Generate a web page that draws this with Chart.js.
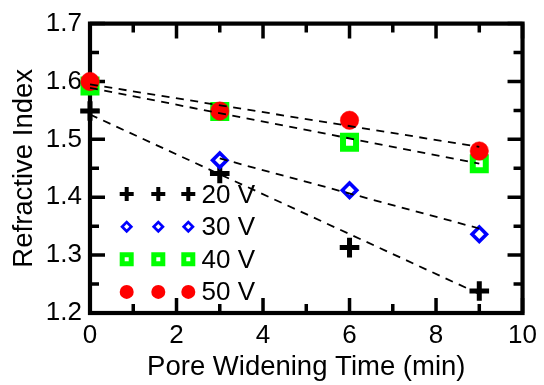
<!DOCTYPE html>
<html>
<head>
<meta charset="utf-8">
<script src="https://cdn.jsdelivr.net/npm/chart.js@4/dist/chart.umd.min.js"></script>
<style>
html,body{margin:0;padding:0;background:#fff;}
#wrap{position:relative;width:544px;height:385px;}
</style>
</head>
<body>
<div id="wrap"><canvas id="c"></canvas></div>
<script>
// ---- data ----
const times = [0, 3, 6, 9];
const ri20 = [1.549, 1.441, 1.313, 1.238];
const ri30 = [null, 1.464, 1.412, 1.336];
const ri40 = [1.592, 1.548, 1.495, 1.458];
const ri50 = [1.600, 1.549, 1.533, 1.480];

// dashed fit lines (end points)
const fitTimes20 = [0, 9];
const fit20 = [1.543, 1.233];
const fitTimes30 = [3, 9];
const fit30 = [1.467, 1.346];
const fitTimes40 = [0, 9];
const fit40 = [1.589, 1.458];
const fitTimes50 = [0, 9];
const fit50 = [1.595, 1.487];

const seriesLabels = ['20 V', '30 V', '40 V', '50 V'];
const xTicks = [0, 2, 4, 6, 8, 10];
const xMinorTicks = [1, 3, 5, 7, 9];
const yTicks = [1.2, 1.3, 1.4, 1.5, 1.6, 1.7];
const yMinorTicks = [1.25, 1.35, 1.45, 1.55, 1.65];

const xTitle = 'Pore Widening Time (min)';
const yTitle = 'Refractive Index';

function pts(xs, ys) {
  return xs.map((x, i) => ({x: x, y: ys[i]})).filter(p => p.y !== null);
}

const FONT = '"Liberation Sans", Arial, sans-serif';

const markerStyles = [
  {style: 'cross', color: '#000000', fill: '#000000'},
  {style: 'rectRot', color: '#0000ff', fill: '#ffffff'},
  {style: 'rect', color: '#00ff00', fill: '#ffffff'},
  {style: 'circle', color: '#ff0000', fill: '#ff0000'}
];

function fitDs(xs, ys) {
  return {
    type: 'scatter', data: pts(xs, ys), showLine: true,
    borderColor: '#000', borderWidth: 1.8, borderDash: [8, 6.5],
    pointRadius: 0, pointHoverRadius: 0, order: 0, clip: false
  };
}

const framePlugin = {
  id: 'frame',
  beforeDatasetsDraw(chart) {
    const {ctx, chartArea: a, scales: {x, y}} = chart;
    ctx.save();
    ctx.strokeStyle = '#000';
    ctx.lineCap = 'butt';
    ctx.lineWidth = 3.5;
    const MAJ = 15, MIN = 9;
    function vt(v, len) {
      const px = x.getPixelForValue(v);
      ctx.beginPath();
      ctx.moveTo(px, a.bottom); ctx.lineTo(px, a.bottom - len);
      ctx.moveTo(px, a.top); ctx.lineTo(px, a.top + len);
      ctx.stroke();
    }
    function ht(v, len) {
      const py = y.getPixelForValue(v);
      ctx.beginPath();
      ctx.moveTo(a.left, py); ctx.lineTo(a.left + len, py);
      ctx.moveTo(a.right, py); ctx.lineTo(a.right - len, py);
      ctx.stroke();
    }
    xTicks.forEach(v => vt(v, MAJ));
    xMinorTicks.forEach(v => vt(v, MIN));
    yTicks.forEach(v => ht(v, MAJ));
    yMinorTicks.forEach(v => ht(v, MIN));
    ctx.lineWidth = 4.2;
    ctx.lineJoin = 'miter';
    ctx.strokeRect(a.left, a.top, a.right - a.left, a.bottom - a.top);
    ctx.restore();
  }
};

function drawMarker(ctx, style, cx, cy, r, lw, color, fill) {
  ctx.save();
  ctx.strokeStyle = color;
  ctx.fillStyle = fill;
  ctx.lineWidth = lw;
  ctx.lineCap = 'butt';
  ctx.beginPath();
  if (style === 'cross') {
    ctx.moveTo(cx - r, cy); ctx.lineTo(cx + r, cy);
    ctx.moveTo(cx, cy - r); ctx.lineTo(cx, cy + r);
    ctx.stroke();
  } else if (style === 'rectRot') {
    ctx.moveTo(cx - r, cy); ctx.lineTo(cx, cy - r);
    ctx.lineTo(cx + r, cy); ctx.lineTo(cx, cy + r);
    ctx.closePath();
    ctx.fill(); ctx.stroke();
  } else if (style === 'rect') {
    ctx.rect(cx - r, cy - r, 2 * r, 2 * r);
    ctx.fill(); ctx.stroke();
  } else {
    ctx.arc(cx, cy, r, 0, Math.PI * 2);
    ctx.fill();
  }
  ctx.restore();
}

const legendPlugin = {
  id: 'innerLegend',
  afterDatasetsDraw(chart) {
    const {ctx, chartArea: a} = chart;
    const sizes = [
      {r: 7, lw: 4},
      {r: 4.6, lw: 2.7},
      {r: 4.5, lw: 5},
      {r: 7, lw: 0}
    ];
    const mx = [a.left + 36.7, a.left + 68.3, a.left + 98.3];
    const textX = a.left + 111.5;
    const row0 = a.top + 170.5;
    const step = 32.6;
    seriesLabels.forEach((lab, i) => {
      const yy = row0 + i * step;
      const m = markerStyles[i];
      mx.forEach(px => drawMarker(ctx, m.style, px, yy, sizes[i].r, sizes[i].lw, m.color, m.fill));
      ctx.save();
      ctx.fillStyle = '#000';
      ctx.font = '26px ' + FONT;
      ctx.textAlign = 'left';
      ctx.textBaseline = 'middle';
      ctx.fillText(lab, textX, yy + 1.3);
      ctx.restore();
    });
  }
};

Chart.defaults.font.family = FONT;
Chart.defaults.color = '#000';

new Chart(document.getElementById('c'), {
  type: 'scatter',
  data: {
    datasets: [
      {label: seriesLabels[0], data: pts(times, ri20), pointStyle: 'cross', pointRadius: 9.8, pointHoverRadius: 9.8,
       pointBorderWidth: 5, pointBorderColor: '#000', pointBackgroundColor: '#000', borderColor: '#000', order: 4, clip: false},
      {label: seriesLabels[1], data: pts(times, ri30), pointStyle: 'rectRot', pointRadius: 7.2, pointHoverRadius: 7.2,
       pointBorderWidth: 3.6, pointBorderColor: '#0000ff', pointBackgroundColor: '#ffffff', borderColor: '#0000ff', order: 3, clip: false},
      {label: seriesLabels[2], data: pts(times, ri40), pointStyle: 'rect', pointRadius: 9.2, pointHoverRadius: 9.2,
       pointBorderWidth: 6, pointBorderColor: '#00ff00', pointBackgroundColor: '#ffffff', borderColor: '#00ff00', order: 2, clip: false},
      {label: seriesLabels[3], data: pts(times, ri50), pointStyle: 'circle', pointRadius: 9.2, pointHoverRadius: 9.2,
       pointBorderWidth: 0.5, pointBorderColor: '#ff0000', pointBackgroundColor: '#ff0000', borderColor: '#ff0000', order: 1, clip: false},
      fitDs(fitTimes20, fit20),
      fitDs(fitTimes30, fit30),
      fitDs(fitTimes40, fit40),
      fitDs(fitTimes50, fit50)
    ]
  },
  options: {
    responsive: true,
    maintainAspectRatio: false,
    animation: false,
    devicePixelRatio: 1,
    events: [],
    layout: {padding: {left: 0, right: 16, top: 20, bottom: 0}},
    plugins: {legend: {display: false}, tooltip: {enabled: false}},
    scales: {
      x: {
        type: 'linear', min: 0, max: 10,
        afterBuildTicks: s => { s.ticks = xTicks.map(v => ({value: v})); },
        afterFit: s => { s.height = 72; },
        grid: {display: false, drawTicks: false},
        border: {display: false},
        ticks: {font: {size: 26}, padding: 7, maxRotation: 0, autoSkip: false, callback: v => String(v)},
        title: {display: true, text: xTitle, font: {size: 27.5}, padding: {top: 0, bottom: 1}}
      },
      y: {
        type: 'linear', min: 1.2, max: 1.7,
        afterBuildTicks: s => { s.ticks = yTicks.map(v => ({value: v})); },
        afterFit: s => { s.width = 90; },
        grid: {display: false, drawTicks: false},
        border: {display: false},
        ticks: {font: {size: 26}, padding: 8, autoSkip: false, callback: v => Number(v).toFixed(1)},
        title: {display: true, text: yTitle, font: {size: 27.5}, padding: {top: 8, bottom: 0}}
      }
    }
  },
  plugins: [framePlugin, legendPlugin]
});
</script>
</body>
</html>
